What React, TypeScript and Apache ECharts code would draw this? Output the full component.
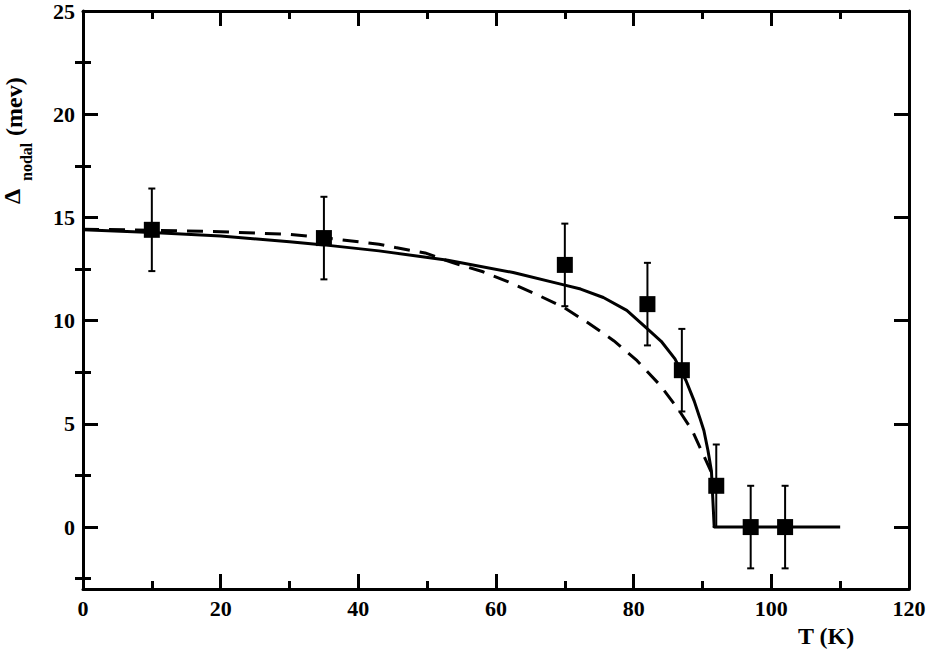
import React, { useEffect, useRef } from "react";
import * as echarts from "echarts";

// Measured data points (T in K, gap in meV) with symmetric errors
const pointT = [10, 35, 70, 82, 87, 92, 97, 102];
const pointGap = [14.4, 14.0, 12.7, 10.8, 7.6, 2.0, 0, 0];
const pointErr = [2, 2, 2, 2, 2, 2, 2, 2];

// Solid fit curve
const solidT = [0, 10, 20, 30, 35, 43, 53, 62.5, 69.4, 72.3, 75.6, 79, 82, 84, 86, 87.6, 88.8, 89.6, 90.2, 90.8, 91.3, 91.7, 97, 102, 110];
const solidGap = [14.4, 14.27, 14.1, 13.82, 13.67, 13.38, 12.93, 12.33, 11.77, 11.53, 11.12, 10.5, 9.6, 9.0, 8.15, 7.1, 6.1, 5.3, 4.68, 3.7, 2.7, 0, 0, 0, 0];

// Dashed curve
const dashT = [0, 10, 20, 30, 35, 43, 45.4, 49.7, 53.8, 58, 61.8, 65.7, 69.7, 73.3, 77.1, 80.5, 83.9, 86.7, 88.5, 90.5, 91.5];
const dashGap = [14.43, 14.38, 14.31, 14.18, 14.02, 13.7, 13.54, 13.28, 12.8, 12.38, 11.88, 11.3, 10.67, 9.91, 9.03, 8.06, 6.85, 5.6, 4.68, 3.23, 2.5];

const yMajorTicks = [0, 5, 10, 15, 20, 25];
const yMinorTicks = [-2.5, 2.5, 7.5, 12.5, 17.5, 22.5];

const FONT = "Liberation Serif";

export default function App() {
  const ref = useRef<HTMLDivElement>(null);
  useEffect(() => {
    if (!ref.current) return;
    document.body.style.margin = "0";
    const chart = echarts.init(ref.current, null, { renderer: "svg" });
    const lineSt = { color: "#000", width: 3 };
    const axisCommon = {
      axisLine: { show: true, onZero: false, lineStyle: lineSt },
      axisTick: { show: true, inside: true, length: 15, lineStyle: lineSt },
      minorTick: { show: true, splitNumber: 2, length: 8, lineStyle: lineSt },
      splitLine: { show: false },
      minorSplitLine: { show: false },
    };
    const labelStyle = { color: "#000", fontFamily: FONT, fontWeight: "bold" as const, fontSize: 22 };
    const yBase = { type: "value", min: -3, max: 25, splitLine: { show: false } };
    const yMajor = (pos: string, withLabels: boolean) => ({
      ...yBase,
      position: pos,
      axisLine: { show: true, onZero: false, lineStyle: lineSt },
      axisTick: { show: true, inside: true, length: 15, lineStyle: lineSt, customValues: yMajorTicks },
      axisLabel: withLabels
        ? { ...labelStyle, margin: 8, customValues: yMajorTicks }
        : { show: false },
    });
    const yMinor = (pos: string) => ({
      ...yBase,
      position: pos,
      axisLine: { show: false },
      axisTick: { show: true, inside: true, length: 8, lineStyle: lineSt, customValues: yMinorTicks },
      axisLabel: { show: false },
    });
    const txt = (text: string, size: number) => ({
      text, fill: "#000", fontFamily: FONT, fontWeight: "bold", fontSize: size,
    });
    chart.setOption({
      animation: false,
      backgroundColor: "#fff",
      grid: { left: 83, right: 20, top: 10, bottom: 63, containLabel: false },
      xAxis: [
        {
          type: "value", min: 0, max: 120, interval: 20, position: "bottom",
          ...axisCommon,
          axisLabel: { ...labelStyle, margin: 8 },
        },
        {
          type: "value", min: 0, max: 120, interval: 20, position: "top",
          ...axisCommon,
          axisLabel: { show: false },
        },
      ],
      yAxis: [yMajor("left", true), yMinor("left"), yMajor("right", false), yMinor("right")],
      graphic: [
        {
          type: "text", left: 798, top: 624,
          style: txt("T (K)", 24),
        },
        {
          type: "group", x: 24, y: 204, rotation: Math.PI / 2,
          children: [
            { type: "text", x: 0, y: 0, style: { ...txt("\u0394", 24), textAlign: "left", textVerticalAlign: "bottom" } },
            { type: "text", x: 23, y: 10, style: { ...txt("nodal", 16), textAlign: "left", textVerticalAlign: "bottom" } },
            { type: "text", x: 62, y: 2, style: { ...txt(" (mev)", 24), textAlign: "left", textVerticalAlign: "bottom" } },
          ],
        },
      ],
      series: [
        {
          type: "line",
          data: dashT.map((t, i) => [t, dashGap[i]]),
          showSymbol: false,
          lineStyle: { color: "#000", width: 3, type: [16, 10] },
          z: 2,
        },
        {
          type: "line",
          data: solidT.map((t, i) => [t, solidGap[i]]),
          showSymbol: false,
          lineStyle: { color: "#000", width: 3 },
          z: 3,
        },
        {
          type: "custom",
          data: pointT.map((t, i) => [t, pointGap[i] - pointErr[i], pointGap[i] + pointErr[i]]),
          renderItem: (params: any, api: any) => {
            const x = api.value(0);
            const lo = api.coord([x, api.value(1)]);
            const hi = api.coord([x, api.value(2)]);
            const cap = 3.5;
            const st = { stroke: "#000", lineWidth: 2 };
            return {
              type: "group",
              children: [
                { type: "line", shape: { x1: lo[0], y1: lo[1], x2: hi[0], y2: hi[1] }, style: st },
                { type: "line", shape: { x1: lo[0] - cap, y1: lo[1], x2: lo[0] + cap, y2: lo[1] }, style: st },
                { type: "line", shape: { x1: hi[0] - cap, y1: hi[1], x2: hi[0] + cap, y2: hi[1] }, style: st },
              ],
            };
          },
          z: 4,
        },
        {
          type: "scatter",
          data: pointT.map((t, i) => [t, pointGap[i]]),
          symbol: "rect",
          symbolSize: 16,
          itemStyle: { color: "#000", opacity: 1 },
          z: 5,
        },
      ],
    });
    return () => chart.dispose();
  }, []);
  return <div ref={ref} style={{ position: "absolute", left: 0, top: 0, width: 929, height: 652 }} />;
}
